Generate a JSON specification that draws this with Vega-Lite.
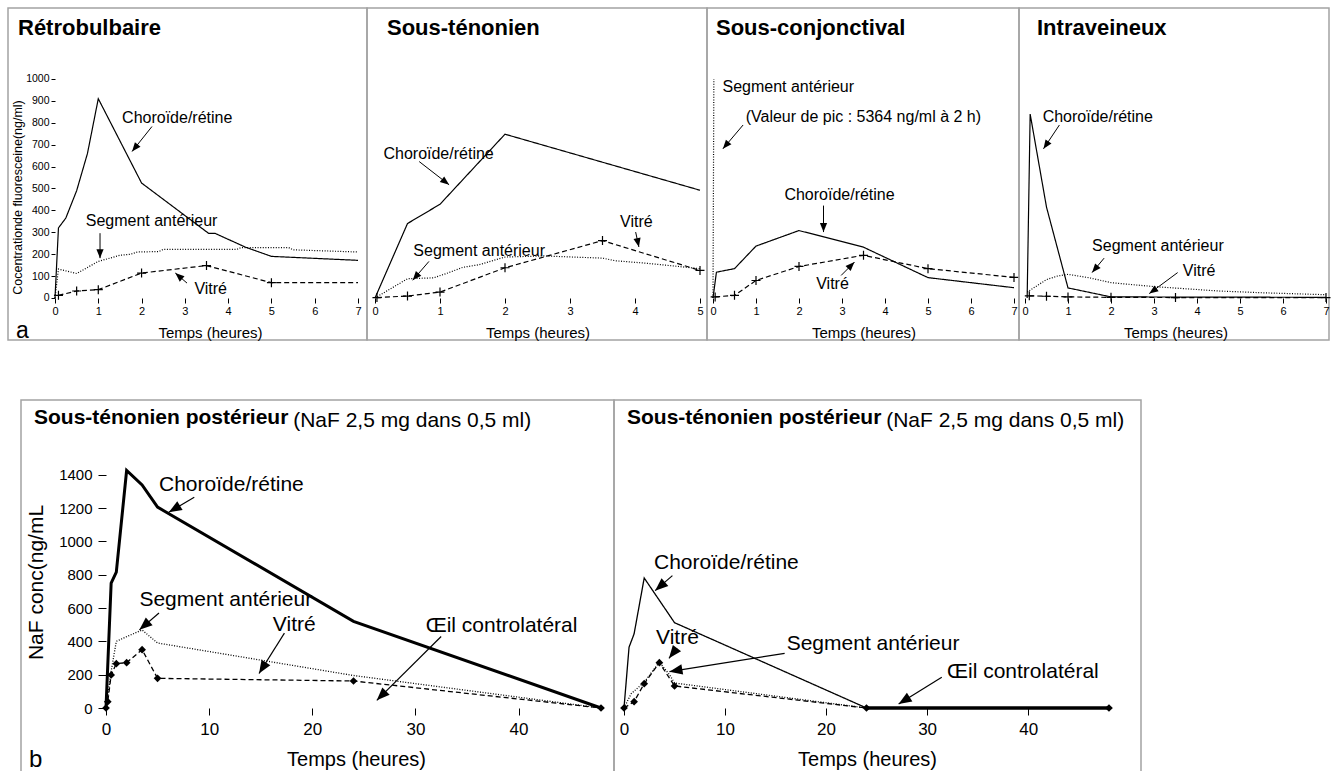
{
  "$schema": "https://vega.github.io/schema/vega-lite/v6.json",
  "padding": {"left": 7, "top": 7, "right": 0, "bottom": 0},
  "autosize": {"type": "pad"},
  "background": "white",
  "config": {
    "view": {"stroke": "#a3a3a3", "strokeWidth": 1.5},
    "axis": {"labelFont": "Liberation Sans", "titleFont": "Liberation Sans", "labelColor": "black", "titleColor": "black", "tickColor": "black", "grid": false, "domain": false, "labelFlush": false, "labelOverlap": false, "titleFontWeight": "normal", "titleAlign": "center", "format": "d"},
    "text": {"font": "Liberation Sans", "color": "black"},
    "title": {"anchor": "start", "frame": "group", "font": "Liberation Sans", "fontSize": 22, "fontWeight": "bold", "color": "black", "baseline": "alphabetic", "offset": -32}
  },
  "datasets": {
    "series": [
      {"p":"P1","s":"Choroïde/rétine","x":0,"y":0},{"p":"P1","s":"Choroïde/rétine","x":0.08,"y":320},{"p":"P1","s":"Choroïde/rétine","x":0.25,"y":365},{"p":"P1","s":"Choroïde/rétine","x":0.5,"y":490},{"p":"P1","s":"Choroïde/rétine","x":0.75,"y":660},{"p":"P1","s":"Choroïde/rétine","x":1,"y":910},{"p":"P1","s":"Choroïde/rétine","x":2,"y":525},{"p":"P1","s":"Choroïde/rétine","x":3.55,"y":295},{"p":"P1","s":"Choroïde/rétine","x":3.7,"y":295},{"p":"P1","s":"Choroïde/rétine","x":4.4,"y":232},{"p":"P1","s":"Choroïde/rétine","x":5,"y":190},{"p":"P1","s":"Choroïde/rétine","x":7,"y":172},
      {"p":"P1","s":"Segment antérieur","x":0,"y":0},{"p":"P1","s":"Segment antérieur","x":0.08,"y":132},{"p":"P1","s":"Segment antérieur","x":0.5,"y":112},{"p":"P1","s":"Segment antérieur","x":1,"y":167},{"p":"P1","s":"Segment antérieur","x":1.5,"y":195},{"p":"P1","s":"Segment antérieur","x":1.75,"y":200},{"p":"P1","s":"Segment antérieur","x":1.9,"y":210},{"p":"P1","s":"Segment antérieur","x":2.4,"y":212},{"p":"P1","s":"Segment antérieur","x":2.5,"y":222},{"p":"P1","s":"Segment antérieur","x":4.2,"y":222},{"p":"P1","s":"Segment antérieur","x":4.3,"y":230},{"p":"P1","s":"Segment antérieur","x":5.4,"y":230},{"p":"P1","s":"Segment antérieur","x":5.5,"y":220},{"p":"P1","s":"Segment antérieur","x":7,"y":210},
      {"p":"P1","s":"Vitré","x":0.08,"y":12},{"p":"P1","s":"Vitré","x":0.5,"y":32},{"p":"P1","s":"Vitré","x":1,"y":38},{"p":"P1","s":"Vitré","x":2,"y":114},{"p":"P1","s":"Vitré","x":3.5,"y":148},{"p":"P1","s":"Vitré","x":5,"y":70},{"p":"P1","s":"Vitré","x":7,"y":70,"m":false},
      {"p":"P2","s":"Choroïde/rétine","x":0,"y":0},{"p":"P2","s":"Choroïde/rétine","x":0.5,"y":340},{"p":"P2","s":"Choroïde/rétine","x":1,"y":428},{"p":"P2","s":"Choroïde/rétine","x":2,"y":748},{"p":"P2","s":"Choroïde/rétine","x":5,"y":492},
      {"p":"P2","s":"Segment antérieur","x":0,"y":0},{"p":"P2","s":"Segment antérieur","x":0.5,"y":88},{"p":"P2","s":"Segment antérieur","x":0.9,"y":92},{"p":"P2","s":"Segment antérieur","x":1.1,"y":112},{"p":"P2","s":"Segment antérieur","x":1.35,"y":140},{"p":"P2","s":"Segment antérieur","x":1.6,"y":152},{"p":"P2","s":"Segment antérieur","x":2,"y":187},{"p":"P2","s":"Segment antérieur","x":2.6,"y":192},{"p":"P2","s":"Segment antérieur","x":3.5,"y":182},{"p":"P2","s":"Segment antérieur","x":3.7,"y":170},{"p":"P2","s":"Segment antérieur","x":4.2,"y":158},{"p":"P2","s":"Segment antérieur","x":5,"y":134},
      {"p":"P2","s":"Vitré","x":0.03,"y":2},{"p":"P2","s":"Vitré","x":0.5,"y":9},{"p":"P2","s":"Vitré","x":1,"y":27},{"p":"P2","s":"Vitré","x":2,"y":138},{"p":"P2","s":"Vitré","x":3.5,"y":262},{"p":"P2","s":"Vitré","x":5,"y":126},
      {"p":"P3","s":"Choroïde/rétine","x":0,"y":0},{"p":"P3","s":"Choroïde/rétine","x":0.08,"y":118},{"p":"P3","s":"Choroïde/rétine","x":0.5,"y":134},{"p":"P3","s":"Choroïde/rétine","x":1,"y":237},{"p":"P3","s":"Choroïde/rétine","x":2,"y":308},{"p":"P3","s":"Choroïde/rétine","x":3.5,"y":232},{"p":"P3","s":"Choroïde/rétine","x":5,"y":93},{"p":"P3","s":"Choroïde/rétine","x":7,"y":47},
      {"p":"P3","s":"Segment antérieur","x":0,"y":0},{"p":"P3","s":"Segment antérieur","x":0.02,"y":1000},
      {"p":"P3","s":"Vitré","x":0.05,"y":5},{"p":"P3","s":"Vitré","x":0.5,"y":12},{"p":"P3","s":"Vitré","x":1,"y":80},{"p":"P3","s":"Vitré","x":2,"y":144},{"p":"P3","s":"Vitré","x":3.5,"y":195},{"p":"P3","s":"Vitré","x":5,"y":134},{"p":"P3","s":"Vitré","x":7,"y":94},
      {"p":"P4","s":"Choroïde/rétine","x":0.05,"y":0},{"p":"P4","s":"Choroïde/rétine","x":0.12,"y":840},{"p":"P4","s":"Choroïde/rétine","x":0.5,"y":415},{"p":"P4","s":"Choroïde/rétine","x":1,"y":46},{"p":"P4","s":"Choroïde/rétine","x":2,"y":5},{"p":"P4","s":"Choroïde/rétine","x":7,"y":3},
      {"p":"P4","s":"Segment antérieur","x":0.05,"y":27},{"p":"P4","s":"Segment antérieur","x":0.5,"y":84},{"p":"P4","s":"Segment antérieur","x":0.75,"y":100},{"p":"P4","s":"Segment antérieur","x":1,"y":108},{"p":"P4","s":"Segment antérieur","x":1.25,"y":100},{"p":"P4","s":"Segment antérieur","x":1.5,"y":92},{"p":"P4","s":"Segment antérieur","x":2,"y":70},{"p":"P4","s":"Segment antérieur","x":3,"y":52},{"p":"P4","s":"Segment antérieur","x":4.5,"y":32},{"p":"P4","s":"Segment antérieur","x":5.5,"y":24},{"p":"P4","s":"Segment antérieur","x":7,"y":15},
      {"p":"P4","s":"Vitré","x":0.1,"y":10},{"p":"P4","s":"Vitré","x":0.5,"y":8},{"p":"P4","s":"Vitré","x":1,"y":5},{"p":"P4","s":"Vitré","x":2,"y":3},{"p":"P4","s":"Vitré","x":3.5,"y":2},{"p":"P4","s":"Vitré","x":7,"y":2},
      {"p":"B1","s":"Choroïde/rétine","x":0,"y":0},{"p":"B1","s":"Choroïde/rétine","x":0.5,"y":750},{"p":"B1","s":"Choroïde/rétine","x":1,"y":815},{"p":"B1","s":"Choroïde/rétine","x":2,"y":1425},{"p":"B1","s":"Choroïde/rétine","x":3.5,"y":1338},{"p":"B1","s":"Choroïde/rétine","x":5,"y":1205},{"p":"B1","s":"Choroïde/rétine","x":24,"y":520},{"p":"B1","s":"Choroïde/rétine","x":48,"y":0},
      {"p":"B1","s":"Segment antérieur","x":0,"y":0},{"p":"B1","s":"Segment antérieur","x":0.5,"y":220},{"p":"B1","s":"Segment antérieur","x":1,"y":400},{"p":"B1","s":"Segment antérieur","x":2,"y":428},{"p":"B1","s":"Segment antérieur","x":3.5,"y":468},{"p":"B1","s":"Segment antérieur","x":5,"y":390},{"p":"B1","s":"Segment antérieur","x":24,"y":195},{"p":"B1","s":"Segment antérieur","x":48,"y":0},
      {"p":"B1","s":"Vitré","x":0,"y":0},{"p":"B1","s":"Vitré","x":0.17,"y":38},{"p":"B1","s":"Vitré","x":0.5,"y":198},{"p":"B1","s":"Vitré","x":1,"y":266},{"p":"B1","s":"Vitré","x":2,"y":272},{"p":"B1","s":"Vitré","x":3.5,"y":350},{"p":"B1","s":"Vitré","x":5,"y":178},{"p":"B1","s":"Vitré","x":24,"y":162},{"p":"B1","s":"Vitré","x":48,"y":0},
      {"p":"B2","s":"Choroïde/rétine","x":0,"y":0},{"p":"B2","s":"Choroïde/rétine","x":0.5,"y":365},{"p":"B2","s":"Choroïde/rétine","x":1,"y":445},{"p":"B2","s":"Choroïde/rétine","x":2,"y":780},{"p":"B2","s":"Choroïde/rétine","x":5,"y":512},{"p":"B2","s":"Choroïde/rétine","x":24,"y":0},{"p":"B2","s":"Choroïde/rétine","x":48,"y":0},
      {"p":"B2","s":"Segment antérieur","x":0,"y":0},{"p":"B2","s":"Segment antérieur","x":0.7,"y":85},{"p":"B2","s":"Segment antérieur","x":2,"y":155},{"p":"B2","s":"Segment antérieur","x":3.5,"y":275},{"p":"B2","s":"Segment antérieur","x":4.5,"y":200},{"p":"B2","s":"Segment antérieur","x":5,"y":150},{"p":"B2","s":"Segment antérieur","x":24,"y":0},{"p":"B2","s":"Segment antérieur","x":48,"y":0},
      {"p":"B2","s":"Vitré","x":0,"y":0},{"p":"B2","s":"Vitré","x":1,"y":38},{"p":"B2","s":"Vitré","x":2,"y":146},{"p":"B2","s":"Vitré","x":3.5,"y":272},{"p":"B2","s":"Vitré","x":5,"y":132},{"p":"B2","s":"Vitré","x":24,"y":0},{"p":"B2","s":"Vitré","x":48,"y":0},
      {"p":"B2","s":"Œil controlatéral","x":24,"y":0},{"p":"B2","s":"Œil controlatéral","x":48,"y":0}
    ],
    "labels": [
      {"p":"P1","x":1.55,"y":821,"text":"Choroïde/rétine"},{"p":"P1","x":0.71,"y":350,"text":"Segment antérieur"},{"p":"P1","x":3.22,"y":43,"text":"Vitré"},
      {"p":"P2","x":0.13,"y":658,"text":"Choroïde/rétine"},{"p":"P2","x":0.59,"y":213,"text":"Segment antérieur"},{"p":"P2","x":3.77,"y":347,"text":"Vitré"},
      {"p":"P3","x":0.22,"y":962,"text":"Segment antérieur"},{"p":"P3","x":0.76,"y":825,"text":"(Valeur de pic : 5364 ng/ml à 2 h)"},{"p":"P3","x":1.66,"y":471,"text":"Choroïde/rétine"},{"p":"P3","x":2.4,"y":65,"text":"Vitré"},
      {"p":"P4","x":0.41,"y":828,"text":"Choroïde/rétine"},{"p":"P4","x":1.56,"y":236,"text":"Segment antérieur"},{"p":"P4","x":3.67,"y":122,"text":"Vitré"},
      {"p":"B1","x":5.14,"y":1336,"text":"Choroïde/rétine"},{"p":"B1","x":3.24,"y":651,"text":"Segment antérieur"},{"p":"B1","x":16.18,"y":500,"text":"Vitré"},{"p":"B1","x":31.0,"y":490,"text":"Œil controlatéral"},{"p":"B1","x":18.15,"y":1725,"text":"(NaF 2,5 mg dans 0,5 ml)"},
      {"p":"B2","x":2.97,"y":868,"text":"Choroïde/rétine"},{"p":"B2","x":3.17,"y":420,"text":"Vitré"},{"p":"B2","x":16.1,"y":384,"text":"Segment antérieur"},{"p":"B2","x":31.97,"y":214,"text":"Œil controlatéral"},{"p":"B2","x":25.95,"y":1725,"text":"(NaF 2,5 mg dans 0,5 ml)"}
    ],
    "letters": [
      {"p":"P1","x":-0.9,"y":-182.6,"text":"a"},{"p":"B1","x":-7.47,"y":-354,"text":"b"}
    ],
    "arrows": [
      {"p":"P1","x":1.78,"y":669,"x2":2.24,"y2":783,"angle":219},{"p":"P1","x":1.04,"y":182,"x2":1.04,"y2":296,"angle":180},{"p":"P1","x":2.78,"y":114,"x2":3.05,"y2":68,"angle":311},
      {"p":"P2","x":1.14,"y":517,"x2":0.68,"y2":623,"angle":128},{"p":"P2","x":0.58,"y":81,"x2":0.83,"y2":167,"angle":221},{"p":"P2","x":4.06,"y":233,"x2":4.01,"y2":301,"angle":168},
      {"p":"P3","x":0.23,"y":681,"x2":0.7,"y2":790,"angle":220},{"p":"P3","x":2.57,"y":301,"x2":2.57,"y2":422,"angle":180},{"p":"P3","x":3.29,"y":164,"x2":2.98,"y2":103,"angle":45},
      {"p":"P4","x":0.43,"y":681,"x2":0.8,"y2":790,"angle":214},{"p":"P4","x":1.56,"y":116,"x2":1.84,"y2":182,"angle":220},{"p":"P4","x":2.89,"y":20,"x2":3.55,"y2":116,"angle":234},
      {"p":"B1","x":6.09,"y":1174,"x2":8.56,"y2":1265,"angle":239},{"p":"B1","x":3.24,"y":469,"x2":5.14,"y2":570,"angle":229},{"p":"B1","x":14.84,"y":207,"x2":17.3,"y2":449,"angle":212},{"p":"B1","x":26.26,"y":46,"x2":32.5,"y2":429,"angle":225},
      {"p":"B2","x":3.08,"y":704,"x2":4.79,"y2":794,"angle":229},{"p":"B2","x":4.45,"y":298,"x2":5.25,"y2":358,"angle":218},{"p":"B2","x":4.5,"y":218,"x2":15.9,"y2":328,"angle":260},{"p":"B2","x":27.18,"y":24,"x2":31.45,"y2":184,"angle":238}
    ]
  },
  "spacing": 55,
  "vconcat": [
    {
      "spacing": 0,
      "bounds": "flush",
      "hconcat": [
        {
          "width": 359, "height": 332,
          "title": {"text": "Rétrobulbaire", "dx": 10},
          "encoding": {
            "x": {"field": "x", "type": "quantitative", "scale": {"domain": [-1.0858, 7.2079], "nice": false, "zero": false},
              "axis": {"title": "Temps (heures)", "values": [0,1,2,3,4,5,6,7], "tickSize": 5, "labelFontSize": 11, "labelPadding": 2, "offset": -42, "titleFontSize": 15, "titleX": 202, "titleY": 39, "titleBaseline": "alphabetic"}},
            "y": {"field": "y", "type": "quantitative", "scale": {"domain": [-191.8, 1324.2], "nice": false, "zero": false},
              "axis": {"title": "Cocentrationde fluoresceine(ng/ml)", "values": [0,100,200,300,400,500,600,700,800,900,1000], "tickSize": 4, "labelFontSize": 10.5, "labelPadding": 2, "offset": -47, "titleFontSize": 12.5, "titleX": -38, "titleY": 189, "titleBaseline": "middle"}}
          },
          "layer": [
            {"data": {"values": [{}]}, "mark": {"type": "rule", "color": "black", "strokeWidth": 1}, "encoding": {"x": {"datum": 0, "type": "quantitative"}, "x2": {"datum": 7}, "y": {"datum": 0, "type": "quantitative"}}},
            {"data": {"values": [{}]}, "mark": {"type": "rule", "color": "black", "strokeWidth": 1}, "encoding": {"x": {"datum": 0, "type": "quantitative"}, "y": {"datum": 0, "type": "quantitative"}, "y2": {"datum": 1000}}},
            {"data": {"name": "series"}, "transform": [{"filter": "datum.p === 'P1'"}], "mark": {"type": "line", "color": "black", "strokeWidth": 1.2},
              "encoding": {"strokeDash": {"field": "s", "type": "nominal", "scale": {"domain": ["Choroïde/rétine","Segment antérieur","Vitré","Œil controlatéral"], "range": [[1,0],[1,1.6],[5,3],[1,0]]}, "legend": null}}},
            {"data": {"name": "series"}, "transform": [{"filter": "datum.p === 'P1' && datum.s === 'Vitré' && datum.m !== false"}], "mark": {"type": "point", "shape": "M-1,0H1M0,-1V1", "size": 81, "filled": false, "color": "black", "strokeWidth": 1.2, "opacity": 1}},
            {"data": {"name": "labels"}, "transform": [{"filter": "datum.p === 'P1'"}], "mark": {"type": "text", "align": "left", "baseline": "middle", "fontSize": 16}, "encoding": {"text": {"field": "text"}}},
            {"data": {"name": "letters"}, "transform": [{"filter": "datum.p === 'P1'"}], "mark": {"type": "text", "align": "left", "baseline": "alphabetic", "fontSize": 23}, "encoding": {"text": {"field": "text"}}},
            {"data": {"name": "arrows"}, "transform": [{"filter": "datum.p === 'P1'"}], "mark": {"type": "rule", "color": "black", "strokeWidth": 1}, "encoding": {"x2": {"field": "x2"}, "y2": {"field": "y2"}}},
            {"data": {"name": "arrows"}, "transform": [{"filter": "datum.p === 'P1'"}], "mark": {"type": "point", "shape": "M0,0L-0.8,2L0.8,2Z", "size": 81, "filled": true, "color": "black", "opacity": 1}, "encoding": {"angle": {"field": "angle", "type": "quantitative", "scale": null}}}
          ]
        },
        {
          "width": 340, "height": 332,
          "title": {"text": "Sous-ténonien", "dx": 20},
          "encoding": {
            "x": {"field": "x", "type": "quantitative", "scale": {"domain": [-0.1231, 5.1077], "nice": false, "zero": false},
              "axis": {"title": "Temps (heures)", "values": [0,1,2,3,4,5], "tickSize": 5, "labelFontSize": 11, "labelPadding": 2, "offset": -42, "titleFontSize": 15, "titleX": 170.5, "titleY": 39, "titleBaseline": "alphabetic"}},
            "y": {"field": "y", "type": "quantitative", "scale": {"domain": [-191.8, 1324.2], "nice": false, "zero": false}, "axis": null}
          },
          "layer": [
            {"data": {"values": [{}]}, "mark": {"type": "rule", "color": "black", "strokeWidth": 1}, "encoding": {"x": {"datum": 0, "type": "quantitative"}, "x2": {"datum": 5}, "y": {"datum": 0, "type": "quantitative", "axis": null}}},
            {"data": {"name": "series"}, "transform": [{"filter": "datum.p === 'P2'"}], "mark": {"type": "line", "color": "black", "strokeWidth": 1.2},
              "encoding": {"strokeDash": {"field": "s", "type": "nominal", "scale": {"domain": ["Choroïde/rétine","Segment antérieur","Vitré","Œil controlatéral"], "range": [[1,0],[1,1.6],[5,3],[1,0]]}, "legend": null}}},
            {"data": {"name": "series"}, "transform": [{"filter": "datum.p === 'P2' && datum.s === 'Vitré' && datum.m !== false"}], "mark": {"type": "point", "shape": "M-1,0H1M0,-1V1", "size": 81, "filled": false, "color": "black", "strokeWidth": 1.2, "opacity": 1}},
            {"data": {"name": "labels"}, "transform": [{"filter": "datum.p === 'P2'"}], "mark": {"type": "text", "align": "left", "baseline": "middle", "fontSize": 16}, "encoding": {"text": {"field": "text"}}},
            {"data": {"name": "arrows"}, "transform": [{"filter": "datum.p === 'P2'"}], "mark": {"type": "rule", "color": "black", "strokeWidth": 1}, "encoding": {"x2": {"field": "x2"}, "y2": {"field": "y2"}}},
            {"data": {"name": "arrows"}, "transform": [{"filter": "datum.p === 'P2'"}], "mark": {"type": "point", "shape": "M0,0L-0.8,2L0.8,2Z", "size": 81, "filled": true, "color": "black", "opacity": 1}, "encoding": {"angle": {"field": "angle", "type": "quantitative", "scale": null}}}
          ]
        },
        {
          "width": 312, "height": 332,
          "title": {"text": "Sous-conjonctival", "dx": 9},
          "encoding": {
            "x": {"field": "x", "type": "quantitative", "scale": {"domain": [-0.1395, 7.1163], "nice": false, "zero": false},
              "axis": {"title": "Temps (heures)", "values": [0,1,2,3,4,5,6,7], "tickSize": 5, "labelFontSize": 11, "labelPadding": 2, "offset": -42, "titleFontSize": 15, "titleX": 156.5, "titleY": 39, "titleBaseline": "alphabetic"}},
            "y": {"field": "y", "type": "quantitative", "scale": {"domain": [-191.8, 1324.2], "nice": false, "zero": false}, "axis": null}
          },
          "layer": [
            {"data": {"values": [{}]}, "mark": {"type": "rule", "color": "black", "strokeWidth": 1}, "encoding": {"x": {"datum": 0, "type": "quantitative"}, "x2": {"datum": 7}, "y": {"datum": 0, "type": "quantitative", "axis": null}}},
            {"data": {"name": "series"}, "transform": [{"filter": "datum.p === 'P3'"}], "mark": {"type": "line", "color": "black", "strokeWidth": 1.2},
              "encoding": {"strokeDash": {"field": "s", "type": "nominal", "scale": {"domain": ["Choroïde/rétine","Segment antérieur","Vitré","Œil controlatéral"], "range": [[1,0],[1,1.6],[5,3],[1,0]]}, "legend": null}}},
            {"data": {"name": "series"}, "transform": [{"filter": "datum.p === 'P3' && datum.s === 'Vitré' && datum.m !== false"}], "mark": {"type": "point", "shape": "M-1,0H1M0,-1V1", "size": 81, "filled": false, "color": "black", "strokeWidth": 1.2, "opacity": 1}},
            {"data": {"name": "labels"}, "transform": [{"filter": "datum.p === 'P3'"}], "mark": {"type": "text", "align": "left", "baseline": "middle", "fontSize": 16}, "encoding": {"text": {"field": "text"}}},
            {"data": {"name": "arrows"}, "transform": [{"filter": "datum.p === 'P3'"}], "mark": {"type": "rule", "color": "black", "strokeWidth": 1}, "encoding": {"x2": {"field": "x2"}, "y2": {"field": "y2"}}},
            {"data": {"name": "arrows"}, "transform": [{"filter": "datum.p === 'P3'"}], "mark": {"type": "point", "shape": "M0,0L-0.8,2L0.8,2Z", "size": 81, "filled": true, "color": "black", "opacity": 1}, "encoding": {"angle": {"field": "angle", "type": "quantitative", "scale": null}}}
          ]
        },
        {
          "width": 310, "height": 332,
          "title": {"text": "Intraveineux", "dx": 18},
          "encoding": {
            "x": {"field": "x", "type": "quantitative", "scale": {"domain": [-0.1395, 7.0698], "nice": false, "zero": false},
              "axis": {"title": "Temps (heures)", "values": [0,1,2,3,4,5,6,7], "tickSize": 5, "labelFontSize": 11, "labelPadding": 2, "offset": -42, "titleFontSize": 15, "titleX": 156.5, "titleY": 39, "titleBaseline": "alphabetic"}},
            "y": {"field": "y", "type": "quantitative", "scale": {"domain": [-191.8, 1324.2], "nice": false, "zero": false}, "axis": null}
          },
          "layer": [
            {"data": {"values": [{}]}, "mark": {"type": "rule", "color": "black", "strokeWidth": 1}, "encoding": {"x": {"datum": 0, "type": "quantitative"}, "x2": {"datum": 7}, "y": {"datum": 0, "type": "quantitative", "axis": null}}},
            {"data": {"name": "series"}, "transform": [{"filter": "datum.p === 'P4'"}], "mark": {"type": "line", "color": "black", "strokeWidth": 1.2},
              "encoding": {"strokeDash": {"field": "s", "type": "nominal", "scale": {"domain": ["Choroïde/rétine","Segment antérieur","Vitré","Œil controlatéral"], "range": [[1,0],[1,1.6],[5,3],[1,0]]}, "legend": null}}},
            {"data": {"name": "series"}, "transform": [{"filter": "datum.p === 'P4' && datum.s === 'Vitré' && datum.m !== false"}], "mark": {"type": "point", "shape": "M-1,0H1M0,-1V1", "size": 81, "filled": false, "color": "black", "strokeWidth": 1.2, "opacity": 1}},
            {"data": {"name": "labels"}, "transform": [{"filter": "datum.p === 'P4'"}], "mark": {"type": "text", "align": "left", "baseline": "middle", "fontSize": 16}, "encoding": {"text": {"field": "text"}}},
            {"data": {"name": "arrows"}, "transform": [{"filter": "datum.p === 'P4'"}], "mark": {"type": "rule", "color": "black", "strokeWidth": 1}, "encoding": {"x2": {"field": "x2"}, "y2": {"field": "y2"}}},
            {"data": {"name": "arrows"}, "transform": [{"filter": "datum.p === 'P4'"}], "mark": {"type": "point", "shape": "M0,0L-0.8,2L0.8,2Z", "size": 81, "filled": true, "color": "black", "opacity": 1}, "encoding": {"angle": {"field": "angle", "type": "quantitative", "scale": null}}}
          ]
        }
      ]
    },
    {
      "spacing": 0,
      "bounds": "flush",
      "hconcat": [
        {"width": 13, "height": 372, "view": {"stroke": null}, "data": {"values": []}, "mark": {"type": "point", "opacity": 0}},
        {
          "width": 593, "height": 372,
          "title": {"text": "Sous-ténonien postérieur", "dx": 13, "offset": -28, "fontSize": 21},
          "encoding": {
            "x": {"field": "x", "type": "quantitative", "scale": {"domain": [-8.242, 49.26], "nice": false, "zero": false},
              "axis": {"title": "Temps (heures)", "values": [0,10,20,30,40], "tickSize": 7, "labelFontSize": 17, "labelPadding": 6, "offset": -64, "titleFontSize": 20, "titleX": 335, "titleY": 57, "titleBaseline": "alphabetic"}},
            "y": {"field": "y", "type": "quantitative", "scale": {"domain": [-384, 1848], "nice": false, "zero": false},
              "axis": {"title": "NaF conc(ng/mL", "values": [0,200,400,600,800,1000,1200,1400], "tickSize": 8, "labelFontSize": 15, "labelPadding": 6, "offset": -85, "titleFontSize": 21, "titleX": -70, "titleY": 182, "titleBaseline": "middle"}}
          },
          "layer": [
            {"data": {"values": [{}]}, "mark": {"type": "rule", "color": "black", "strokeWidth": 1.2}, "encoding": {"x": {"datum": 0, "type": "quantitative"}, "x2": {"datum": 48}, "y": {"datum": 0, "type": "quantitative"}}},
            {"data": {"values": [{}]}, "mark": {"type": "rule", "color": "black", "strokeWidth": 1.2}, "encoding": {"x": {"datum": 0, "type": "quantitative"}, "y": {"datum": 0, "type": "quantitative"}, "y2": {"datum": 1500}}},
            {"data": {"name": "series"}, "transform": [{"filter": "datum.p === 'B1' && datum.s !== 'Choroïde/rétine'"}], "mark": {"type": "line", "color": "black", "strokeWidth": 1.3},
              "encoding": {"strokeDash": {"field": "s", "type": "nominal", "scale": {"domain": ["Segment antérieur","Vitré","Œil controlatéral"], "range": [[1.5,3.5],[7,4],[1,0]]}, "legend": null}}},
            {"data": {"name": "series"}, "transform": [{"filter": "datum.p === 'B1' && datum.s === 'Choroïde/rétine'"}], "mark": {"type": "line", "color": "black", "strokeWidth": 3}},
            {"data": {"name": "series"}, "transform": [{"filter": "datum.p === 'B1' && datum.s === 'Vitré'"}], "mark": {"type": "point", "shape": "diamond", "size": 60, "filled": true, "color": "black", "opacity": 1}},
            {"data": {"name": "labels"}, "transform": [{"filter": "datum.p === 'B1'"}], "mark": {"type": "text", "align": "left", "baseline": "middle", "fontSize": 21}, "encoding": {"text": {"field": "text"}}},
            {"data": {"name": "letters"}, "transform": [{"filter": "datum.p === 'B1'"}], "mark": {"type": "text", "align": "left", "baseline": "alphabetic", "fontSize": 24}, "encoding": {"text": {"field": "text"}}},
            {"data": {"name": "arrows"}, "transform": [{"filter": "datum.p === 'B1'"}], "mark": {"type": "rule", "color": "black", "strokeWidth": 1.2}, "encoding": {"x2": {"field": "x2"}, "y2": {"field": "y2"}}},
            {"data": {"name": "arrows"}, "transform": [{"filter": "datum.p === 'B1'"}], "mark": {"type": "point", "shape": "M0,0L-0.8,2L0.8,2Z", "size": 169, "filled": true, "color": "black", "opacity": 1}, "encoding": {"angle": {"field": "angle", "type": "quantitative", "scale": null}}}
          ]
        },
        {
          "width": 527, "height": 372,
          "title": {"text": "Sous-ténonien postérieur", "dx": 13, "offset": -28, "fontSize": 21},
          "encoding": {
            "x": {"field": "x", "type": "quantitative", "scale": {"domain": [-0.99, 51.17], "nice": false, "zero": false},
              "axis": {"title": "Temps (heures)", "values": [0,10,20,30,40], "tickSize": 7, "labelFontSize": 17, "labelPadding": 6, "offset": -64, "titleFontSize": 20, "titleX": 253, "titleY": 57, "titleBaseline": "alphabetic"}},
            "y": {"field": "y", "type": "quantitative", "scale": {"domain": [-384, 1848], "nice": false, "zero": false}, "axis": null}
          },
          "layer": [
            {"data": {"values": [{}]}, "mark": {"type": "rule", "color": "black", "strokeWidth": 1.2}, "encoding": {"x": {"datum": 0, "type": "quantitative"}, "x2": {"datum": 48}, "y": {"datum": 0, "type": "quantitative", "axis": null}}},
            {"data": {"name": "series"}, "transform": [{"filter": "datum.p === 'B2' && datum.s !== 'Œil controlatéral'"}], "mark": {"type": "line", "color": "black", "strokeWidth": 1.3},
              "encoding": {"strokeDash": {"field": "s", "type": "nominal", "scale": {"domain": ["Choroïde/rétine","Segment antérieur","Vitré"], "range": [[1,0],[1.5,3.5],[7,4]]}, "legend": null}}},
            {"data": {"name": "series"}, "transform": [{"filter": "datum.p === 'B2' && datum.s === 'Œil controlatéral'"}], "mark": {"type": "line", "color": "black", "strokeWidth": 3.5}},
            {"data": {"name": "series"}, "transform": [{"filter": "datum.p === 'B2' && datum.s === 'Vitré'"}], "mark": {"type": "point", "shape": "diamond", "size": 60, "filled": true, "color": "black", "opacity": 1}},
            {"data": {"name": "labels"}, "transform": [{"filter": "datum.p === 'B2'"}], "mark": {"type": "text", "align": "left", "baseline": "middle", "fontSize": 21}, "encoding": {"text": {"field": "text"}}},
            {"data": {"name": "arrows"}, "transform": [{"filter": "datum.p === 'B2'"}], "mark": {"type": "rule", "color": "black", "strokeWidth": 1.2}, "encoding": {"x2": {"field": "x2"}, "y2": {"field": "y2"}}},
            {"data": {"name": "arrows"}, "transform": [{"filter": "datum.p === 'B2'"}], "mark": {"type": "point", "shape": "M0,0L-0.8,2L0.8,2Z", "size": 169, "filled": true, "color": "black", "opacity": 1}, "encoding": {"angle": {"field": "angle", "type": "quantitative", "scale": null}}}
          ]
        }
      ]
    }
  ]
}
